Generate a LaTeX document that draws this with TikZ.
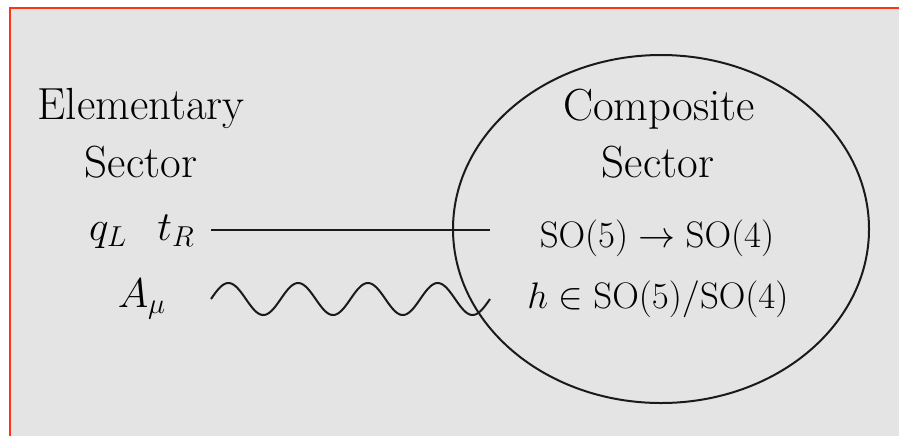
\documentclass[tikz,border=0pt]{standalone}
\usetikzlibrary{shapes.geometric}
\definecolor{panelgray}{HTML}{E4E4E4}
\definecolor{frame}{HTML}{FF3414}
\definecolor{ink}{HTML}{1A1A1A}
\begin{document}
\begin{tikzpicture}[x=0.5pt,y=-0.5pt,
  lbl/.style={inner sep=0pt, anchor=base, font=\fontsize{22.5}{27}\selectfont},
  mlbl/.style={inner sep=0pt, anchor=base, font=\fontsize{20.74}{25}\selectfont},
  slbl/.style={mlbl, scale=0.89, transform shape},
  conn/.style={draw=ink, line width=1pt}]
\useasboundingbox (0,0) rectangle (899,436);
\fill[white] (0,0) rectangle (899,436);
\fill[panelgray] (10,8) rectangle (899,436);
\draw[frame, line width=1.4pt] (10,436) -- (10,8) -- (899,8);
% elementary sector
\node[lbl] (el1) at (141,119) {Elementary};
\node[lbl] (el2) at (141,177) {Sector};
\node[mlbl] (ferm) at (142,240) {$q_L\;\;\, t_R$};
\node[mlbl] (gauge) at (142,307) {$A_\mu$};
% composite sector
\node[ellipse, draw=ink, line width=1pt, inner sep=0pt, minimum width=208pt, minimum height=174pt] (comp) at (661,229) {};
\node[lbl] (co1) at (659,120) {Composite};
\node[lbl] (co2) at (658,177) {Sector};
\node[slbl] (co3) at (657,247) {$\mathrm{SO}(5)\to\mathrm{SO}(4)$};
\node[slbl] (co4) at (658,308) {$h\in\mathrm{SO}(5)/\mathrm{SO}(4)$};
% connectors
\coordinate (f1) at (211,230);
\coordinate (f2) at (490,230);
\coordinate (g1) at (211,299);
\coordinate (g2) at (490,299);
\draw[conn] (f1) -- (f2);
\begin{scope}[shift={(g1)}]
\draw[conn, line join=round] plot[domain=0:279, samples=161, smooth] (\x,{-16*sin(5.16129*\x)});
\end{scope}
\end{tikzpicture}
\end{document}
